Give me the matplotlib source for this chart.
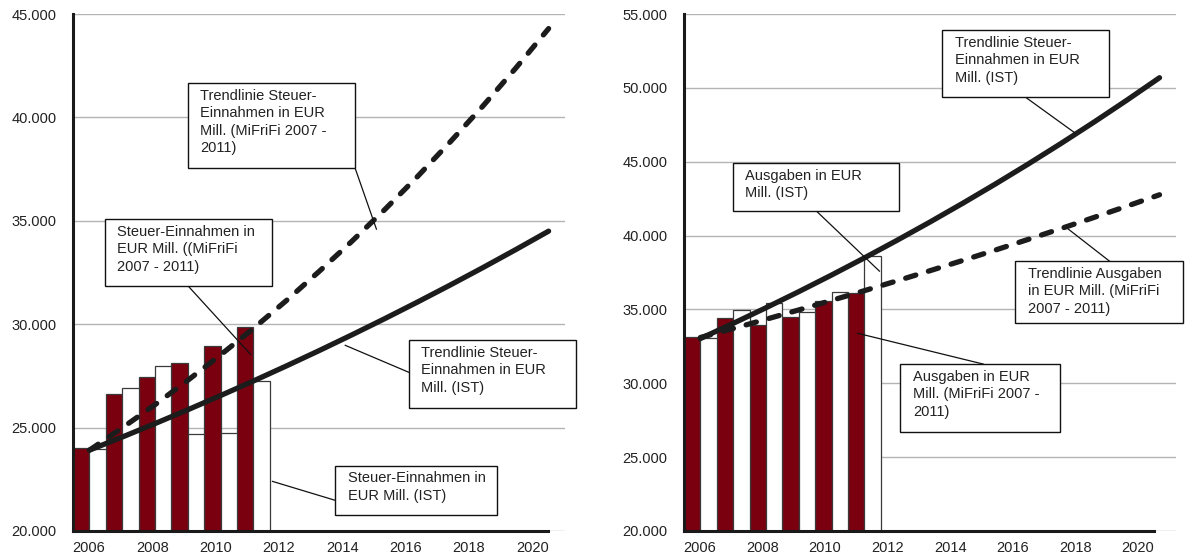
import numpy as np
import matplotlib
matplotlib.use('Agg')
import matplotlib.pyplot as plt
from matplotlib.patches import Rectangle
from matplotlib.ticker import FuncFormatter

plt.rcParams['font.family'] = ['Liberation Sans', 'DejaVu Sans']
plt.rcParams['font.size'] = 10.5

years = np.arange(2006, 2012)
trend_years = np.arange(2006, 2021)
tick_years = ['2006', '2008', '2010', '2012', '2014', '2016', '2018', '2020']

# Steuer-Einnahmen (links)
einnahmen_mifrifi = [24000, 26650, 27450, 28130, 28970, 29850]
einnahmen_ist = [23950, 26900, 27970, 24690, 24750, 27270]
trend_einnahmen_mifrifi = [23910, 24990, 26110, 27290, 28520, 29800, 31140, 32550,
                           34010, 35540, 37140, 38820, 40560, 42390, 44300]
trend_einnahmen_ist = [23910, 24545, 25196, 25865, 26552, 27256, 27980, 28722,
                       29485, 30267, 31071, 31896, 32742, 33611, 34503]

# Ausgaben (rechts)
ausgaben_mifrifi = [33150, 34450, 33950, 34510, 35550, 36100]
ausgaben_ist = [33100, 34950, 35460, 34810, 36170, 38610]
trend_ausgaben_mifrifi = [33100, 33711, 34334, 34968, 35614, 36272, 36942, 37624,
                          38319, 39027, 39748, 40482, 41230, 41991, 42767]
trend_einnahmen_ist_r = [33030, 34057, 35115, 36206, 37331, 38491, 39687, 40920,
                         42191, 43502, 44853, 46247, 47684, 49165, 50693]

RED = '#7a0010'
LINE = '#1c1c1c'
TXT = '#222222'


def thousand_fmt(v, pos):
    return f'{v:,.0f}'.replace(',', '.')


def setup_axis(ax, ymax, label_frac):
    ax.set_xlim(2005.5, 2020.5)
    ax.set_ylim(20000, ymax)
    ax.set_yticks(np.arange(20000, ymax + 1, 5000))
    ax.yaxis.set_major_formatter(FuncFormatter(thousand_fmt))
    ax.grid(axis='y', color='#b4b4b4', linewidth=1.0)
    ax.set_axisbelow(True)
    # the category labels sit on a slightly narrower axis than the data
    pos = [2005.5 + (i + 0.5) * label_frac for i in range(0, 15, 2)]
    ax.set_xticks(pos, labels=tick_years)
    ax.tick_params(axis='both', length=0, labelsize=10.5, colors=TXT)
    ax.tick_params(axis='y', pad=12)
    ax.tick_params(axis='x', pad=7)
    for s in ['top', 'right']:
        ax.spines[s].set_visible(False)
    for s in ['left', 'bottom']:
        ax.spines[s].set_linewidth(2.2)
        ax.spines[s].set_color('#1a1a1a')
    ax.spines['bottom'].set_bounds(2005.5, 2005.5 + 15 * label_frac)


def draw_bars(ax, red_vals, white_vals):
    ax.bar(years - 0.25, red_vals, width=0.5, color=RED, edgecolor='#3a3a3a',
           linewidth=0.9, zorder=2)
    ax.bar(years + 0.25, white_vals, width=0.5, color='white', edgecolor='#3a3a3a',
           linewidth=0.9, zorder=2)


def draw_trends(ax, solid, dashed):
    ax.plot(trend_years, solid, color=LINE, linewidth=3.8,
            solid_capstyle='round', zorder=4)
    ax.plot(trend_years, dashed, color=LINE, linewidth=3.8,
            linestyle=(0, (2.0, 2.5)), dash_capstyle='round', zorder=4)


def callout(ax, text, x0, x1, y_top, y_bot, start, end):
    ax.add_patch(Rectangle((x0, y_bot), x1 - x0, y_top - y_bot, facecolor='white',
                           edgecolor='#111111', linewidth=1.0, zorder=6,
                           clip_on=False))
    ax.annotate(text, xy=(x0, y_top), xytext=(9, -4), textcoords='offset points',
                ha='left', va='top', fontsize=10.5, linespacing=1.32,
                color=TXT, zorder=7, annotation_clip=False)
    ax.plot([start[0], end[0]], [start[1], end[1]], color='#111111',
            linewidth=0.9, zorder=5, clip_on=False)


fig = plt.figure(figsize=(11.86, 5.6), dpi=100)
ax1 = fig.add_axes([0.0616, 0.0518, 0.4148, 0.923])
ax2 = fig.add_axes([0.5767, 0.0518, 0.4148, 0.923])

setup_axis(ax1, 45000, 0.9654)
draw_bars(ax1, einnahmen_mifrifi, einnahmen_ist)
draw_trends(ax1, trend_einnahmen_ist, trend_einnahmen_mifrifi)

callout(ax1, 'Trendlinie Steuer-\nEinnahmen in EUR\nMill. (MiFriFi 2007 -\n2011)',
        2009.0, 2014.1, 41650, 37550, (2014.1, 37550), (2014.75, 34600))
callout(ax1, 'Steuer-Einnahmen in\nEUR Mill. ((MiFriFi\n2007 - 2011)',
        2006.46, 2011.58, 35070, 31830, (2009.02, 31830), (2010.91, 28545))
callout(ax1, 'Trendlinie Steuer-\nEinnahmen in EUR\nMill. (IST)',
        2015.73, 2020.82, 29220, 25930, (2015.73, 27680), (2013.8, 28980))
callout(ax1, 'Steuer-Einnahmen in\nEUR Mill. (IST)',
        2013.5, 2018.44, 23150, 20780, (2013.5, 21480), (2011.58, 22400))

setup_axis(ax2, 55000, 0.955)
draw_bars(ax2, ausgaben_mifrifi, ausgaben_ist)
draw_trends(ax2, trend_einnahmen_ist_r, trend_ausgaben_mifrifi)

callout(ax2, 'Trendlinie Steuer-\nEinnahmen in EUR\nMill. (IST)',
        2013.38, 2018.47, 53925, 49380, (2015.91, 49380), (2017.43, 46940))
callout(ax2, 'Ausgaben in EUR\nMill. (IST)',
        2006.98, 2012.07, 44910, 41660, (2009.54, 41660), (2011.46, 37595))
callout(ax2, 'Trendlinie Ausgaben\nin EUR Mill. (MiFriFi\n2007 - 2011)',
        2015.6, 2020.73, 38280, 34080, (2018.47, 38280), (2017.22, 40440))
callout(ax2, 'Ausgaben in EUR\nMill. (MiFriFi 2007 -\n2011)',
        2012.1, 2016.98, 31300, 26690, (2014.63, 31300), (2010.79, 33390))

fig.savefig('out.png', dpi=100, facecolor='white')
